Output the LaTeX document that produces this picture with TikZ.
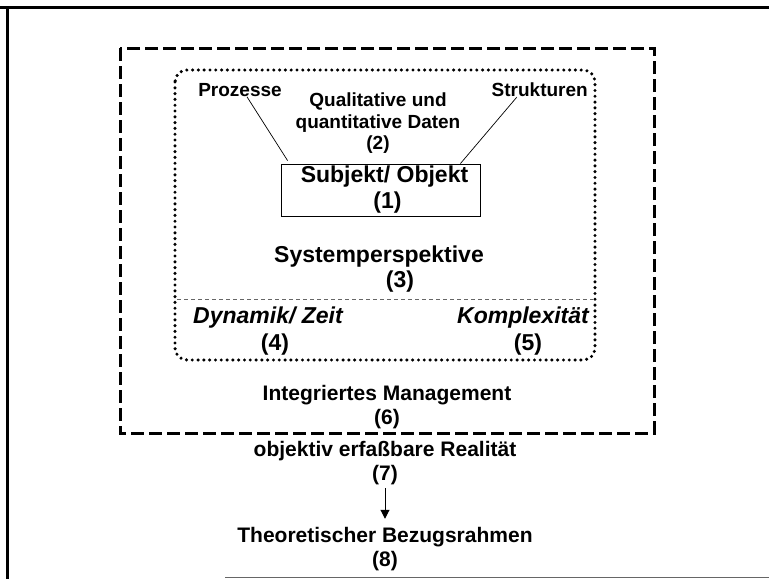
\documentclass[tikz,border=0pt]{standalone}
\usepackage{fontspec}
\setmainfont{Liberation Sans}
\usetikzlibrary{arrows.meta,calc}
\tikzset{
  bigtxt/.style={font=\fontsize{23}{26}\selectfont\bfseries,align=center,inner sep=0pt},
  lowtxt/.style={font=\fontsize{21}{24.5}\selectfont\bfseries,align=center,inner sep=0pt},
  smalltxt/.style={font=\fontsize{19}{21.5}\selectfont\bfseries,align=center,inner sep=0pt},
  itxt/.style={font=\fontsize{23}{26}\selectfont\bfseries\itshape,align=center,inner sep=0pt},
  outerbox/.style={line width=3pt,dash pattern=on 13pt off 5pt},
  innerbox/.style={line width=3.4pt,line cap=round,dash pattern=on 0pt off 5.8pt,rounded corners=12pt},
  sepln/.style={line width=0.7pt,black!60,dash pattern=on 4pt off 3pt},
  subjbox/.style={draw,line width=0.8pt,minimum width=199pt,minimum height=52pt,
    font=\fontsize{23}{26}\selectfont\bfseries,align=center,inner sep=0pt},
  conn/.style={line width=0.7pt},
  arr/.style={-{Triangle[length=9pt,width=9pt]},line width=1pt,shorten <=3pt,shorten >=8pt},
  frame/.style={line width=3pt},
}
\begin{document}
\begin{tikzpicture}[x=1pt,y=-1pt]
  \useasboundingbox (0,0) rectangle (769,579);
  % page frame
  \draw[frame] (0,7) -- (769,7);
  \draw[frame] (7,7) -- (7,579);
  \draw[line width=0.8pt,black!60] (225,577) -- (769,577);
  % boxes
  \draw[outerbox] (120,48) rectangle (654,433);
  \draw[innerbox] (175,70) rectangle (595,360);
  \draw[sepln] (177,299) -- (593,299);
  % inner content
  \node[smalltxt] (proz) at (240,90) {Prozesse};
  \node[smalltxt,anchor=east] (struk) at (588,90) {Strukturen};
  \node[smalltxt] (daten) at (378,123.5) {Qualitative und\\quantitative Daten\\(2)};
  \node[subjbox] (subj) at (380.5,190) {\hspace*{8pt}Subjekt/ Objekt\\\hspace*{14pt}(1)};
  \draw[conn] ([xshift=7pt]proz.south) -- ([xshift=7pt,yshift=3pt]subj.north west);
  \draw[conn] ([xshift=-23pt]struk.south) -- ([xshift=-20pt]subj.north east);
  \node[bigtxt] (sys) at (379,257) {Systemperspektive};
  \node[bigtxt] (sysnr) at (400,282) {(3)};
  \node[itxt] (dyn) at (268,318) {Dynamik/ Zeit};
  \node[bigtxt] (dynnr) at (275,345) {(4)};
  \node[itxt] (kompl) at (523,318) {Komplexität};
  \node[bigtxt] (komplnr) at (528,345) {(5)};
  \node[lowtxt] (mgmt) at (387,407) {Integriertes Management\\(6)};
  % below the dashed box
  \node[lowtxt] (real) at (385,463) {objektiv erfaßbare Realität\\(7)};
  \node[lowtxt] (theo) at (385,549) {Theoretischer Bezugsrahmen\\(8)};
  \draw[arr] (real.south) -- (theo.north);
\end{tikzpicture}
\end{document}
